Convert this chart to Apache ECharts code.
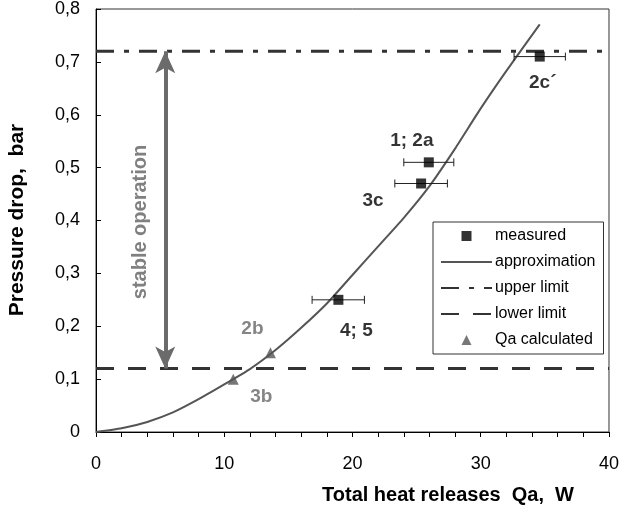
<!DOCTYPE html>
<html><head><meta charset="utf-8">
<script src="https://cdn.jsdelivr.net/npm/echarts@6/dist/echarts.min.js"></script>
<style>html,body{margin:0;padding:0;background:#fff}#c{width:622px;height:514px}</style>
</head><body><div id="c"></div>
<script>
// ---- data ----
const approxQ = [0, 2, 4, 6, 8, 10, 12, 14, 16, 18, 20, 22, 24, 26, 28, 30, 32, 34.6];
const approxP = [0, 0.007, 0.019, 0.037, 0.062, 0.09, 0.119, 0.155, 0.197, 0.243, 0.297, 0.351, 0.405, 0.465, 0.536, 0.612, 0.683, 0.771];
const measuredQ = [18.9, 25.35, 25.95, 34.6];
const measuredP = [0.25, 0.47, 0.51, 0.71];
const measuredQLow = [16.85, 23.3, 24.0, 32.6];
const measuredQHigh = [20.93, 27.4, 27.9, 36.6];
const measuredLabels = ['4; 5', '3c', '1; 2a', '2c\u00b4'];
const calcQ = [10.7, 13.6];
const calcP = [0.1, 0.15];
const calcLabels = ['3b', '2b'];
const upperLimit = 0.72;
const lowerLimit = 0.12;
const stableArrowQ = 5.4;
const xTickLabels = ['0', '10', '20', '30', '40'];
const yTickLabels = ['0', '0,1', '0,2', '0,3', '0,4', '0,5', '0,6', '0,7', '0,8'];
const seriesNames = ['measured', 'approximation', 'upper limit', 'lower limit', 'Qa calculated'];

// ---- styles ----
const FONT = '"Liberation Sans", Arial, sans-serif';
const measuredOffsets = [[18, 31], [-48, 17], [-17, -22], [3, 26]];
const calcOffsets = [[28, 18], [-18, -24]];
const legendIcons = {
  'measured': 'path://M0,0L10,0L10,10L0,10Z',
  'Qa calculated': 'path://M5,0L10,10L0,10Z'
};

const chart = echarts.init(document.getElementById('c'), null, {renderer: 'canvas'});
const option = {
  animation: false,
  backgroundColor: '#fff',
  textStyle: {fontFamily: FONT},
  grid: {left: 96, right: 10, top: 8, bottom: 82, show: true, borderColor: '#333', borderWidth: 1, backgroundColor: 'transparent'},
  xAxis: {
    type: 'value', min: 0, max: 40, interval: 10,
    axisLine: {onZero: false, lineStyle: {color: '#000', width: 1}},
    axisTick: {show: true, inside: false, length: 5, lineStyle: {color: '#000'}},
    minorTick: {show: true, splitNumber: 5, length: 5, lineStyle: {color: '#000'}},
    splitLine: {show: false},
    axisLabel: {fontSize: 18, color: '#000', margin: 23, fontFamily: FONT,
      formatter: (v) => xTickLabels[Math.round(v / 10)]}
  },
  yAxis: {
    type: 'value', min: 0, max: 0.8, interval: 0.1,
    axisLine: {onZero: false, lineStyle: {color: '#000', width: 1}},
    axisTick: {show: true, inside: true, length: 5, lineStyle: {color: '#000'}},
    splitLine: {show: false},
    axisLabel: {fontSize: 18, color: '#000', margin: 16, fontFamily: FONT,
      formatter: (v) => yTickLabels[Math.round(v * 10)]}
  },
  legend: {
    orient: 'vertical', left: 433, top: 222,
    data: seriesNames.map((n) => legendIcons[n]
      ? {name: n, icon: legendIcons[n]}
      : {name: n, itemStyle: {opacity: 0}}),
    symbolKeepAspect: true,
    backgroundColor: '#fff', borderColor: '#333', borderWidth: 1,
    padding: [6, 8, 6, 7],
    itemWidth: 51, itemHeight: 10, itemGap: 10,
    textStyle: {fontSize: 16, color: '#000', fontFamily: FONT, lineHeight: 16, padding: [0, 0, 0, -2]},
    selectedMode: false
  },
  graphic: [
    {type: 'text', x: 17, y: 220, rotation: Math.PI / 2,
      style: {text: 'Pressure drop,  bar', font: 'bold 21px ' + FONT, fill: '#000', align: 'center', verticalAlign: 'middle'}},
    {type: 'text', x: 448, y: 495,
      style: {text: 'Total heat releases  Qa,  W', font: 'bold 20px ' + FONT, fill: '#000', align: 'center', verticalAlign: 'middle'}},
    {type: 'text', x: 140, y: 222, rotation: Math.PI / 2,
      style: {text: 'stable operation', font: 'bold 20px ' + FONT, fill: '#808080', align: 'center', verticalAlign: 'middle'}}
  ],
  series: [
    {
      name: 'upper limit', type: 'line', symbol: 'none', showSymbol: false, z: 3,
      data: [[0, upperLimit], [40, upperLimit]],
      lineStyle: {color: '#333', width: 3, type: [18, 10, 5, 10]},
      itemStyle: {color: '#333'}
    },
    {
      name: 'lower limit', type: 'line', symbol: 'none', showSymbol: false, z: 3,
      data: [[0, lowerLimit], [40, lowerLimit]],
      lineStyle: {color: '#333', width: 3, type: [18, 14]},
      itemStyle: {color: '#333'}
    },
    {
      name: 'stable', type: 'line', data: [], z: 4,
      markLine: {
        silent: true, symbol: ['arrow', 'arrow'], symbolSize: [15, 22],
        label: {show: false},
        lineStyle: {color: '#6b6b6b', width: 4, type: 'solid'},
        data: [[{coord: [stableArrowQ, lowerLimit]}, {coord: [stableArrowQ, upperLimit]}]]
      }
    },
    {
      name: 'approximation', type: 'line', symbol: 'none', showSymbol: false, smooth: 0.2, z: 5,
      data: approxQ.map((q, i) => [q, approxP[i]]),
      lineStyle: {color: '#555', width: 2},
      itemStyle: {color: '#555'}
    },
    {
      name: 'errors', type: 'custom', z: 6, silent: true,
      data: measuredQ.map((q, i) => [measuredQLow[i], measuredQHigh[i], measuredP[i]]),
      encode: {x: [0, 1], y: 2},
      renderItem: function (params, api) {
        const a = api.coord([api.value(0), api.value(2)]);
        const b = api.coord([api.value(1), api.value(2)]);
        const h = 4, st = {stroke: '#222', lineWidth: 1};
        return {type: 'group', children: [
          {type: 'line', shape: {x1: a[0], y1: a[1], x2: b[0], y2: b[1]}, style: st},
          {type: 'line', shape: {x1: a[0], y1: a[1] - h, x2: a[0], y2: a[1] + h}, style: st},
          {type: 'line', shape: {x1: b[0], y1: b[1] - h, x2: b[0], y2: b[1] + h}, style: st}
        ]};
      }
    },
    {
      name: 'measured', type: 'scatter', symbol: 'rect', symbolSize: 10, z: 7,
      itemStyle: {color: '#000'},
      data: measuredQ.map((q, i) => ({
        value: [q, measuredP[i]],
        label: {show: true, formatter: measuredLabels[i], position: 'inside', offset: measuredOffsets[i],
          fontSize: 19, fontWeight: 'bold', color: '#000', fontFamily: FONT}
      }))
    },
    {
      name: 'Qa calculated', type: 'scatter', symbol: 'triangle', symbolSize: 11, z: 7,
      itemStyle: {color: '#555'},
      data: calcQ.map((q, i) => ({
        value: [q, calcP[i]],
        label: {show: true, formatter: calcLabels[i], position: 'inside', offset: calcOffsets[i],
          fontSize: 19, fontWeight: 'bold', color: '#666', fontFamily: FONT}
      }))
    }
  ]
};
chart.setOption(option);
</script>
</body></html>
